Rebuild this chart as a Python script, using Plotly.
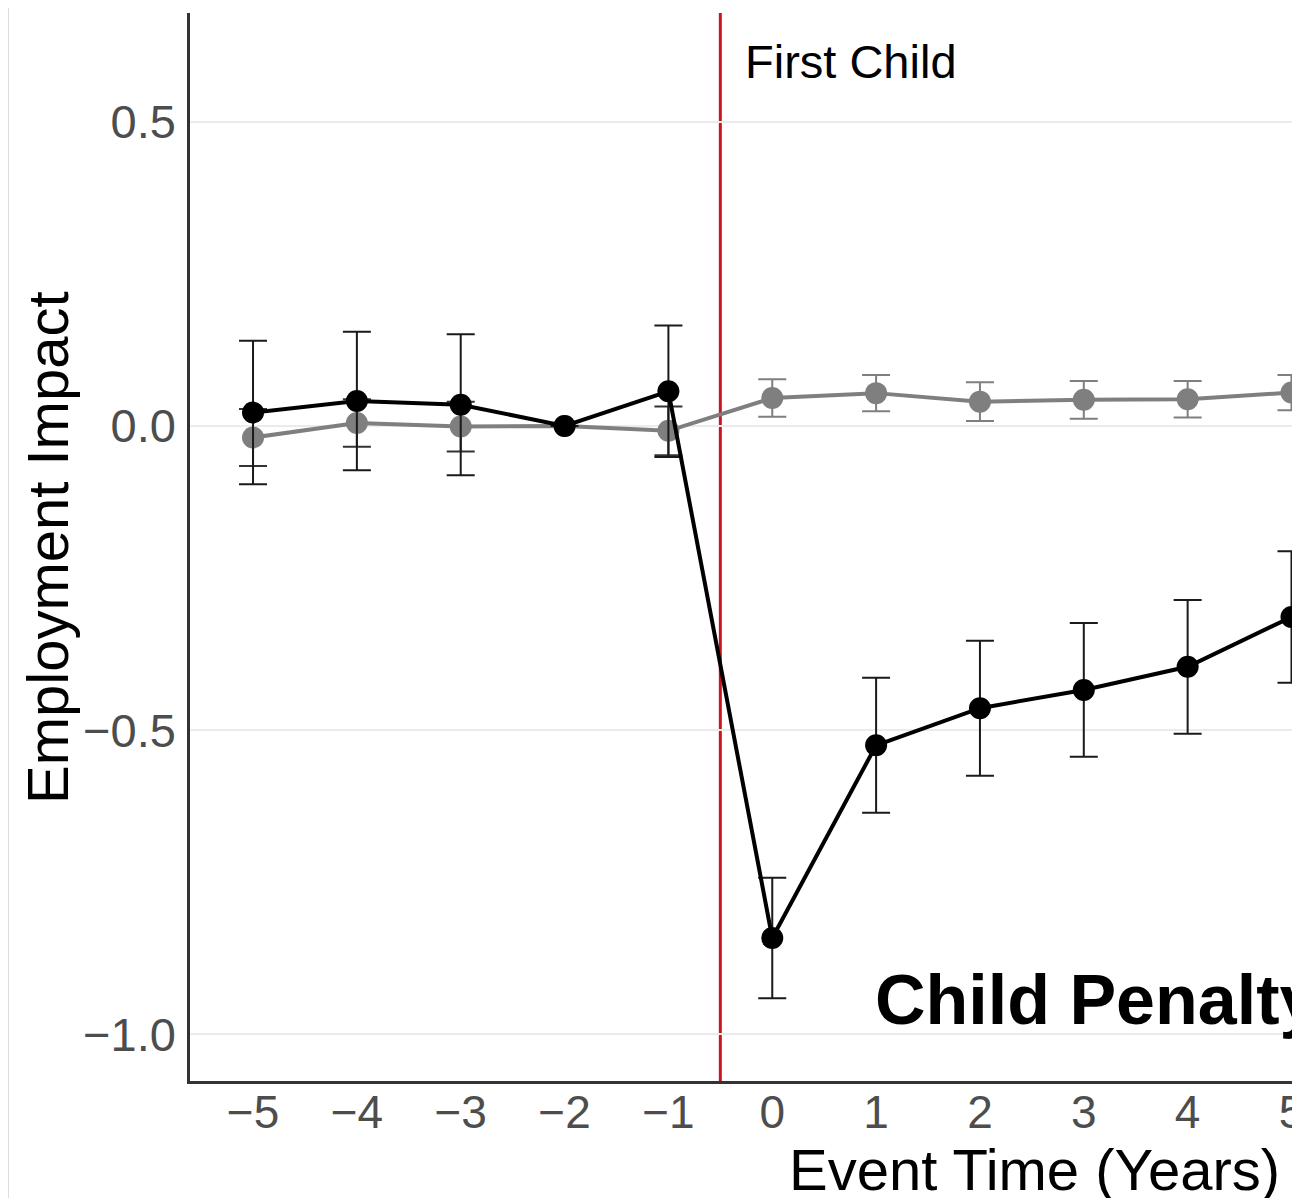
import plotly.graph_objects as go

event_time = [-5, -4, -3, -2, -1, 0, 1, 2, 3, 4, 5]
mothers = [0.022, 0.041, 0.035, 0.0, 0.057, -0.842, -0.525, -0.464, -0.434, -0.396, -0.314]
mothers_se = [0.118, 0.114, 0.116, None, 0.108, 0.099, 0.111, 0.111, 0.110, 0.110, 0.108]
fathers = [-0.019, 0.005, -0.001, 0.0, -0.008, 0.046, 0.054, 0.040, 0.043, 0.044, 0.055]
fathers_se = [0.047, 0.039, 0.041, None, 0.040, 0.031, 0.030, 0.032, 0.031, 0.030, 0.029]
y_ticks = [-1.0, -0.5, 0.0, 0.5]
y_tick_labels = ["\u22121.0", "\u22120.5", "0.0", "0.5"]
x_tick_labels = [("\u2212" + str(-v)) if v < 0 else str(v) for v in event_time]

FONT = "Liberation Sans, Arial, sans-serif"
GREY = "#7f7f7f"

pre = [i for i, t in enumerate(event_time) if t < 0]
post = [i for i, t in enumerate(event_time) if t >= 0]

fig = go.Figure()

# grey series error bars (pre-period darker, post-period grey)
for idx, col in ((pre, "#333333"), (post, GREY)):
    fig.add_trace(go.Scatter(
        x=[event_time[i] for i in idx], y=[fathers[i] for i in idx],
        mode="markers", marker=dict(size=1, opacity=0),
        error_y=dict(type="data", array=[fathers_se[i] for i in idx], color=col,
                     thickness=2, width=14),
        showlegend=False, hoverinfo="skip"))

fig.add_trace(go.Scatter(
    x=event_time, y=fathers, mode="lines+markers",
    line=dict(color=GREY, width=4), marker=dict(color=GREY, size=22),
    showlegend=False))

fig.add_trace(go.Scatter(
    x=event_time, y=mothers, mode="lines+markers",
    line=dict(color="#000000", width=4), marker=dict(color="#000000", size=22),
    error_y=dict(type="data", array=mothers_se, color="#1a1a1a", thickness=2, width=14),
    showlegend=False))

fig.add_shape(type="line", xref="x", yref="paper", x0=-0.5, x1=-0.5, y0=0, y1=1,
              line=dict(color="#c8161d", width=3), layer="between")
# faint frame line at far left
fig.add_shape(type="line", xref="paper", yref="paper", x0=-0.1652, x1=-0.1652, y0=-0.12, y1=1.01,
              line=dict(color="#dddddd", width=2), layer="above")

fig.add_annotation(x=-0.28, y=0.599, xref="x", yref="y", text="First Child",
                   showarrow=False, xanchor="left", yanchor="middle",
                   font=dict(family=FONT, size=47, color="#000000"))
fig.add_annotation(x=0.97, y=-0.944, xref="x", yref="y", text="<b>Child Penalty</b>",
                   showarrow=False, xanchor="left", yanchor="middle",
                   font=dict(family=FONT, size=70, color="#000000"))
fig.add_annotation(x=-0.1298, y=0.5, xref="paper", yref="paper", text="Employment Impact",
                   showarrow=False, textangle=-90, xanchor="center", yanchor="middle",
                   font=dict(family=FONT, size=58, color="#000000"))
fig.add_annotation(x=0.766, y=-0.083, xref="paper", yref="paper", text="Event Time (Years)",
                   showarrow=False, xanchor="center", yanchor="middle",
                   font=dict(family=FONT, size=58, color="#000000"))

fig.update_layout(
    width=1284, height=1190,
    margin=dict(l=182, r=0, t=5, b=117, autoexpand=False),
    paper_bgcolor="white", plot_bgcolor="white",
    font=dict(family=FONT),
    xaxis=dict(range=[-5.607, 5.005], tickmode="array", tickvals=event_time,
               ticktext=x_tick_labels, showgrid=False, zeroline=False,
               showline=True, linecolor="#333333", linewidth=2.5, automargin=False,
               ticks="", ticklabelstandoff=-11, ticklabeloverflow="allow",
               tickfont=dict(family=FONT, size=46, color="#4d4d4d")),
    yaxis=dict(range=[-1.077, 0.679], tickmode="array", tickvals=y_ticks,
               ticktext=y_tick_labels, showgrid=True, gridcolor="#ebebeb", gridwidth=2,
               zeroline=False, showline=True, linecolor="#333333", linewidth=2.5,
               automargin=False,
               ticks="outside", ticklen=2, tickcolor="rgba(0,0,0,0)",
               tickfont=dict(family=FONT, size=47, color="#4d4d4d")),
)

fig.write_html("out.html")
